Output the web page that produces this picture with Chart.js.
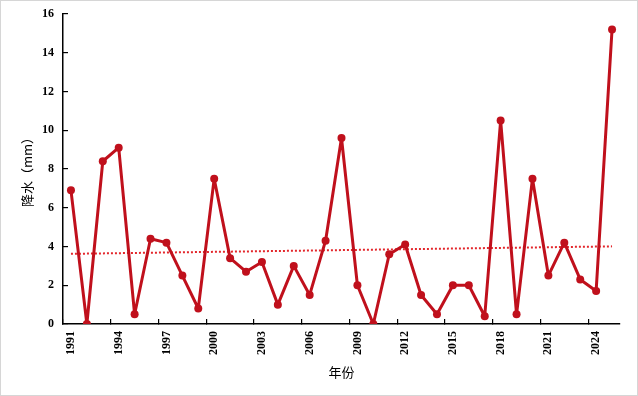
<!DOCTYPE html>
<html>
<head>
<meta charset="utf-8">
<script src="https://cdn.jsdelivr.net/npm/chart.js@4"></script>
<style>
  body { margin: 0; background: #fff; }
  #box { width: 636px; height: 394px; border: 1px solid #d6d6d6; position: relative; }
</style>
</head>
<body>
<div id="box"><canvas id="line-chart"></canvas></div>
<script>
// 年份 / 降水（mm）
const years = [];
for (let y = 1991; y <= 2025; y++) years.push(String(y));
const rain = [6.9, 0, 8.4, 9.1, 0.5, 4.4, 4.2, 2.5, 0.8, 7.5,
              3.4, 2.7, 3.2, 1.0, 3.0, 1.5, 4.3, 9.6, 2.0, 0,
              3.6, 4.1, 1.5, 0.5, 2.0, 2.0, 0.4, 10.5, 0.5, 7.5,
              2.5, 4.2, 2.3, 1.7, 15.2];
const yTicks = [0, 2, 4, 6, 8, 10, 12, 14, 16];

// linear trend from the data
let n = rain.length, sx = 0, sy = 0, sxy = 0, sxx = 0;
rain.forEach(function(v, i) { sx += i; sy += v; sxy += i * v; sxx += i * i; });
const slope = (n * sxy - sx * sy) / (n * sxx - sx * sx);
const icpt = (sy - slope * sx) / n;
const trend = rain.map(function(v, i) { return icpt + slope * i; });

const tickFont = { family: 'Liberation Serif', size: 12, weight: 'bold' };
const titleFont = { family: 'Noto Sans CJK SC', size: 13 };

new Chart(document.getElementById('line-chart'), {
  type: 'line',
  data: {
    labels: years,
    datasets: [
      {
        label: '降水',
        data: rain,
        borderColor: '#c0101c',
        backgroundColor: '#c0101c',
        borderWidth: 3,
        borderJoinStyle: 'round',
        borderCapStyle: 'round',
        pointRadius: 4,
        pointBackgroundColor: '#c0101c',
        pointBorderWidth: 0,
        tension: 0
      },
      {
        label: '趋势',
        data: trend,
        borderColor: '#e3262b',
        borderWidth: 2,
        borderDash: [2, 2],
        pointRadius: 0,
        tension: 0
      }
    ]
  },
  options: {
    responsive: true,
    maintainAspectRatio: false,
    animation: false,
    layout: { padding: { left: 0, right: 17, top: 13, bottom: 0 } },
    plugins: { legend: { display: false }, tooltip: { enabled: false } },
    scales: {
      x: {
        offset: true,
        grid: {
          offset: true,
          drawOnChartArea: false,
          tickLength: -5,
          lineWidth: 1.2,
          color: function(ctx) { return ctx.index % 3 === 0 ? '#000' : 'rgba(0,0,0,0)'; }
        },
        border: { color: '#000', width: 1.5 },
        ticks: {
          autoSkip: false,
          maxRotation: 90,
          minRotation: 90,
          padding: 12,
          color: '#000',
          font: tickFont,
          callback: function(v, i) { return i % 3 === 0 ? years[i] : ''; }
        },
        title: { display: true, text: '年份', color: '#000', font: titleFont, padding: { top: 0, bottom: 15 } },
        afterFit: function(s) { s.height = 71; s.paddingLeft = 0; s.paddingRight = 0; }
      },
      y: {
        min: 0,
        max: 16,
        afterBuildTicks: function(s) { s.ticks = yTicks.map(function(v) { return { value: v }; }); },
        grid: { drawOnChartArea: false, tickLength: -5, lineWidth: 1.2, color: '#000' },
        border: { color: '#000', width: 1.5 },
        ticks: { padding: 14, color: '#000', font: tickFont },
        title: { display: true, text: '降水（mm）', color: '#000', font: titleFont, padding: { top: 18, bottom: 0 } },
        afterFit: function(s) { s.width = 62; s.paddingTop = 0; s.paddingBottom = 0; }
      }
    }
  }
});
</script>
</body>
</html>
